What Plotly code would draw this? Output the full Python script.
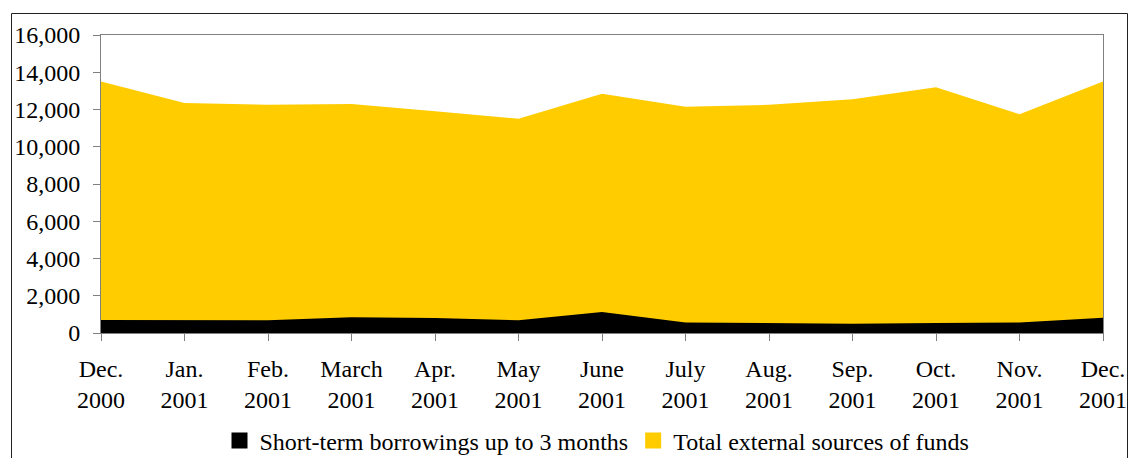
import plotly.graph_objects as go

months = ["Dec.", "Jan.", "Feb.", "March", "Apr.", "May", "June", "July",
          "Aug.", "Sep.", "Oct.", "Nov.", "Dec."]
years = ["2000", "2001", "2001", "2001", "2001", "2001", "2001", "2001",
         "2001", "2001", "2001", "2001", "2001"]
total_external = [13500, 12350, 12250, 12300, 11900, 11500, 12850, 12150,
                  12250, 12550, 13200, 11750, 13500]
short_term = [700, 700, 680, 850, 800, 680, 1130, 560, 520, 500, 540, 570, 820]

yticks = [0, 2000, 4000, 6000, 8000, 10000, 12000, 14000, 16000]

FONT = "Liberation Serif"
YELLOW = "#FFCC00"
BLACK = "#000000"

x = list(range(len(months)))
labels = [f"{m}<br>{y}" for m, y in zip(months, years)]

fig = go.Figure()
fig.add_trace(go.Scatter(x=x, y=total_external, mode="lines", fill="tozeroy",
                         fillcolor=YELLOW, line=dict(width=0, color=YELLOW),
                         showlegend=False, hoverinfo="skip"))
fig.add_trace(go.Scatter(x=x, y=short_term, mode="lines", fill="tozeroy",
                         fillcolor=BLACK, line=dict(width=0, color=BLACK),
                         showlegend=False, hoverinfo="skip"))
# legend entries
fig.add_trace(go.Scatter(x=[None], y=[None], mode="markers",
                         marker=dict(symbol="square", size=16, color=BLACK),
                         name="Short-term borrowings up to 3 months"))
fig.add_trace(go.Scatter(x=[None], y=[None], mode="markers",
                         marker=dict(symbol="square", size=16, color=YELLOW),
                         name="Total external sources of funds"))

W, H = 1128, 458
L, R, T, B = 101, 25, 35, 125
pw, ph = W - L - R, H - T - B

def px(xp):  # page pixel -> paper x
    return (xp - L) / pw

def py(yp):  # page pixel -> paper y
    return (H - B - yp) / ph

fig.update_layout(
    width=W, height=H,
    margin=dict(l=L, r=R, t=T, b=B, pad=0, autoexpand=False),
    paper_bgcolor="white", plot_bgcolor="white",
    font=dict(family=FONT, size=24, color="black"),
    xaxis=dict(range=[0, 12], tickmode="array", tickvals=x, ticktext=labels,
               showgrid=False, zeroline=False, showline=True, linecolor="#808080",
               linewidth=1, mirror=True, ticks="outside", ticklen=7,
               tickcolor="#808080", ticklabelstandoff=7, automargin=False,
               tickfont=dict(family=FONT, size=24, color="black")),
    yaxis=dict(range=[0, 16000], tickmode="array", tickvals=yticks,
               ticktext=[f"{v:,}" for v in yticks], automargin=False,
               showgrid=False, zeroline=False, showline=True, linecolor="#808080",
               linewidth=1, mirror=True, ticks="outside", ticklen=7,
               tickcolor="#808080", ticklabelstandoff=8,
               tickfont=dict(family=FONT, size=24, color="black")),
    legend=dict(orientation="h", x=px(597), xanchor="center", y=py(441), yanchor="middle",
                font=dict(family=FONT, size=24, color="black"),
                itemwidth=30, bgcolor="rgba(0,0,0,0)", tracegroupgap=0),
    shapes=[dict(type="rect", xref="paper", yref="paper",
                 x0=px(11.5), x1=px(1127.5), y0=py(470), y1=py(13.5),
                 line=dict(color="#202020", width=1), fillcolor="rgba(0,0,0,0)",
                 layer="below")],
)

fig.write_html(
    "out.html",
    config={"displayModeBar": False},
    post_script="document.body.style.margin='0';document.body.style.overflow='hidden';",
)
